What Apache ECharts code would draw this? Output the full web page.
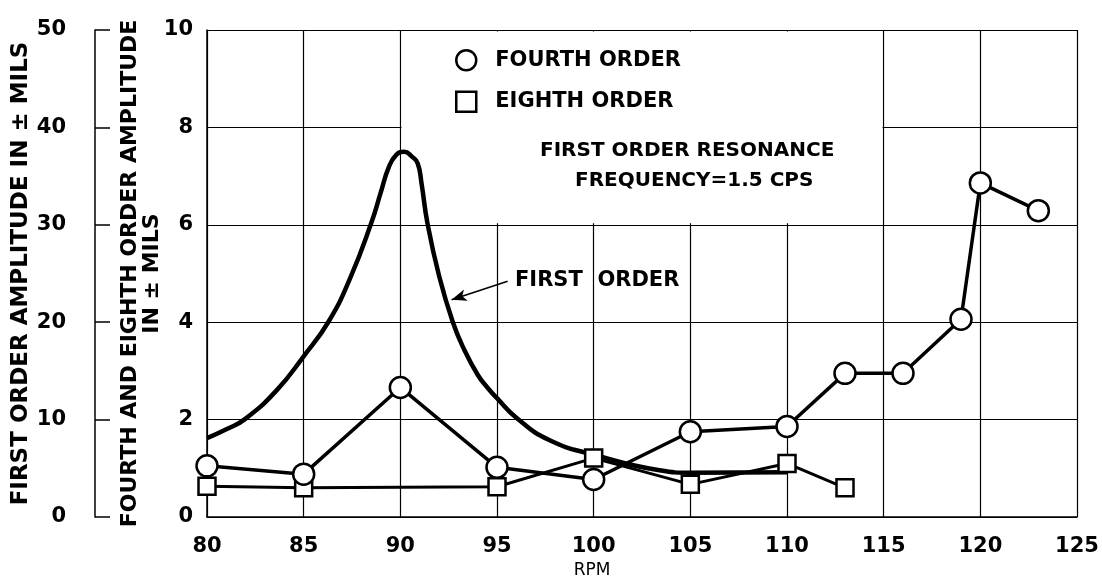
<!DOCTYPE html>
<html>
<head>
<meta charset="utf-8">
<script src="https://cdn.jsdelivr.net/npm/echarts@6/dist/echarts.min.js"></script>
<style>
  html, body { margin: 0; padding: 0; background: #fff; }
  #chart { width: 1102px; height: 577px; }
</style>
</head>
<body>
<div id="chart"></div>
<script>
// data
var fourthRpm = [80, 85, 90, 95, 100, 105, 110, 113, 116, 119, 120, 123];
var fourthAmp = [1.05, 0.88, 2.66, 1.02, 0.77, 1.75, 1.86, 2.95, 2.95, 4.06, 6.86, 6.29];

var eighthRpm = [80, 85, 95, 100, 105, 110, 113];
var eighthAmp = [0.63, 0.6, 0.62, 1.21, 0.67, 1.1, 0.6];

// first order curve (left outer scale, 0-50)
var firstRpm = [80, 81, 82, 83.6, 85, 86.3, 87.4, 88.5, 89, 89.4, 89.8, 90.2, 90.6, 90.9, 91.1, 91.4, 92, 92.7, 93.3, 94, 94.5, 95, 96, 97.7, 100, 103.4, 105, 110];
var firstAmp = [8.1, 9.0, 10.1, 13.0, 16.5, 20.1, 24.5, 30.2, 33.4, 35.9, 37.2, 37.5, 37.0, 36.3, 34.2, 30.2, 24.8, 20.1, 17.2, 14.6, 13.3, 12.2, 10.2, 7.9, 6.4, 4.8, 4.55, 4.6];

var xTicks = { min: 80, max: 125, interval: 5 };

function pairs(xs, ys) {
    return xs.map(function (x, i) { return [x, ys[i]]; });
}

var font = 'DejaVu Sans';
var chart = echarts.init(document.getElementById('chart'));

var option = {
    animation: false,
    backgroundColor: '#fff',
    textStyle: { fontFamily: font, color: '#000' },
    grid: { left: 207, right: 25, top: 30, bottom: 60, containLabel: false, outerBoundsMode: 'none' },
    legend: {
        orient: 'vertical',
        left: 450,
        top: 44,
        itemGap: 19,
        itemWidth: 20,
        itemHeight: 20,
        data: [
            { name: 'FOURTH ORDER', icon: 'circle' },
            { name: 'EIGHTH ORDER', icon: 'rect' }
        ],
        itemStyle: { color: '#fff', borderColor: '#000', borderWidth: 2.5 },
        lineStyle: { width: 0, opacity: 0 },
        textStyle: { fontFamily: font, fontSize: 21, fontWeight: 'bold', color: '#000', padding: [0, 0, 0, 14] }
    },
    xAxis: {
        type: 'value',
        min: xTicks.min,
        max: xTicks.max,
        interval: xTicks.interval,
        name: 'RPM',
        nameLocation: 'middle',
        nameGap: 42,
        nameTextStyle: { fontFamily: font, fontSize: 17, color: '#000', padding: [0, 100, 0, 0] },
        axisLine: { lineStyle: { color: '#000', width: 1.5 } },
        axisTick: { show: false },
        axisLabel: { fontFamily: font, fontSize: 21, fontWeight: 'bold', color: '#000', margin: 19 },
        splitLine: { show: true, lineStyle: { color: '#000', width: 1.2 } }
    },
    yAxis: [
        {
            type: 'value',
            min: 0,
            max: 10,
            interval: 2,
            name: 'FOURTH AND EIGHTH ORDER AMPLITUDE\nIN \u00b1 MILS',
            nameLocation: 'middle',
            nameRotate: 90,
            nameGap: 44,
            nameMoveOverlap: false,
            nameTextStyle: { fontFamily: font, fontSize: 22, fontWeight: 'bold', color: '#000', lineHeight: 22 },
            axisLine: { show: true, lineStyle: { color: '#000', width: 1.5 } },
            axisTick: { show: false },
            axisLabel: { fontFamily: font, fontSize: 21, fontWeight: 'bold', color: '#000', margin: 14 },
            splitLine: { show: true, lineStyle: { color: '#000', width: 1.2 } }
        },
        {
            type: 'value',
            position: 'left',
            offset: 112,
            min: 0,
            max: 50,
            interval: 10,
            name: 'FIRST ORDER AMPLITUDE IN \u00b1 MILS',
            nameLocation: 'middle',
            nameRotate: 90,
            nameGap: 62,
            nameMoveOverlap: false,
            nameTextStyle: { fontFamily: font, fontSize: 23, fontWeight: 'bold', color: '#000' },
            axisLine: { show: true, lineStyle: { color: '#000', width: 1.5 } },
            axisTick: { show: true, inside: true, length: 15, lineStyle: { color: '#000', width: 1.5 } },
            axisLabel: { fontFamily: font, fontSize: 21, fontWeight: 'bold', color: '#000', margin: 29 },
            splitLine: { show: false }
        }
    ],
    series: [
        {
            name: 'FIRST ORDER',
            type: 'line',
            yAxisIndex: 1,
            data: pairs(firstRpm, firstAmp),
            smooth: 0.5,
            symbol: 'none',
            z: 3,
            lineStyle: { color: '#000', width: 4.5 },
            markLine: {
                silent: true,
                symbol: ['none', 'arrow'],
                symbolSize: [9, 15],
                label: { show: false },
                lineStyle: { color: '#000', width: 1.6, type: 'solid' },
                data: [[{ coord: [95.55, 24.2] }, { coord: [92.65, 22.3] }]]
            }
        },
        {
            name: 'EIGHTH ORDER',
            type: 'line',
            data: pairs(eighthRpm, eighthAmp),
            symbol: 'rect',
            symbolSize: 17,
            z: 4,
            lineStyle: { color: '#000', width: 3 },
            itemStyle: { color: '#fff', borderColor: '#000', borderWidth: 2.5 }
        },
        {
            name: 'FOURTH ORDER',
            type: 'line',
            data: pairs(fourthRpm, fourthAmp),
            symbol: 'circle',
            symbolSize: 21,
            z: 5,
            lineStyle: { color: '#000', width: 3.5 },
            itemStyle: { color: '#fff', borderColor: '#000', borderWidth: 2.5 },
            // blank panel behind the legend and note
            markArea: {
                silent: true,
                itemStyle: { color: '#fff', opacity: 1 },
                data: [[{ coord: [90.06, 6.03] }, { coord: [114.94, 9.97] }]]
            }
        }
    ],
    graphic: [
        {
            type: 'text', x: 540, y: 151, z: 100,
            style: { text: 'FIRST ORDER RESONANCE', font: 'bold 20px ' + font, fill: '#000', verticalAlign: 'middle' }
        },
        {
            type: 'text', x: 575, y: 181, z: 100,
            style: { text: 'FREQUENCY=1.5 CPS', font: 'bold 20px ' + font, fill: '#000', verticalAlign: 'middle' }
        },
        {
            type: 'text', x: 515, y: 281, z: 100,
            style: { text: 'FIRST  ORDER', font: 'bold 21px ' + font, fill: '#000', verticalAlign: 'middle' }
        }
    ]
};

chart.setOption(option);
</script>
</body>
</html>
